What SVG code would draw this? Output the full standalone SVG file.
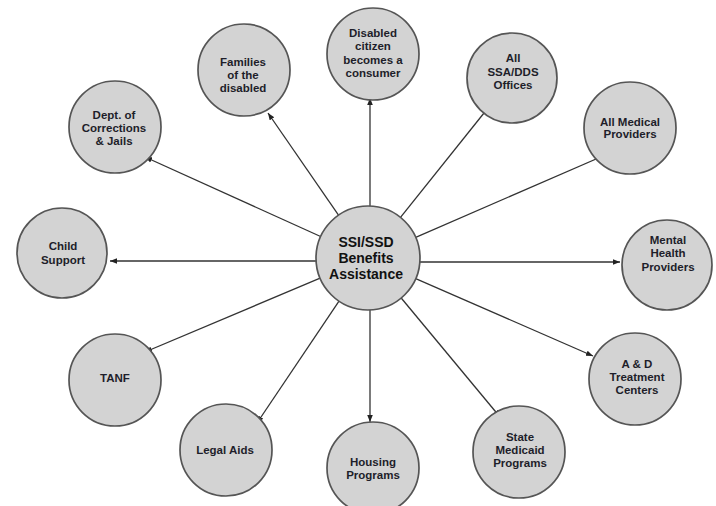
<svg xmlns="http://www.w3.org/2000/svg" width="716" height="506" viewBox="0 0 716 506">
<defs>
<marker id="ah" viewBox="0 0 10 10" refX="10" refY="5" markerWidth="7" markerHeight="7" markerUnits="userSpaceOnUse" orient="auto">
<path d="M0,1 L10,5 L0,9 Z" fill="#222"/>
</marker>
<style>
.n{fill:#d3d3d3;stroke:#555;stroke-width:1.7}
.t{font-family:"Liberation Sans",Arial,sans-serif;font-weight:bold;font-size:11.5px;fill:#1e1e2a;text-anchor:middle}
.tc{font-family:"Liberation Sans",Arial,sans-serif;font-weight:bold;font-size:14px;fill:#111;text-anchor:middle}
.c{stroke:#333;stroke-width:1.3;fill:none;marker-end:url(#ah)}
</style>
</defs>
<rect width="716" height="506" fill="#fff"/>
<g id="connectors">
<line class="c" x1="320.6" y1="236.5" x2="145" y2="157"/>
<line class="c" x1="338.5" y1="215.2" x2="268" y2="113"/>
<line class="c" x1="370" y1="206" x2="370" y2="98"/>
<line class="c" x1="400.5" y1="217.4" x2="492" y2="103"/>
<line class="c" x1="415.7" y1="237.3" x2="603" y2="156"/>
<line class="c" x1="420" y1="262" x2="620" y2="262"/>
<line class="c" x1="415.7" y1="278.6" x2="593" y2="356"/>
<line class="c" x1="401.2" y1="298" x2="500" y2="417"/>
<line class="c" x1="370" y1="310" x2="370" y2="422"/>
<line class="c" x1="339" y1="301.2" x2="257" y2="423"/>
<line class="c" x1="320.1" y1="278.2" x2="145" y2="352"/>
<line class="c" x1="316" y1="261" x2="110" y2="261"/>
</g>
<g id="center">
<circle class="n" cx="368" cy="258" r="52"/>
<text class="tc" x="366" y="247">SSI/SSD</text>
<text class="tc" x="366" y="263">Benefits</text>
<text class="tc" x="366" y="279">Assistance</text>
</g>
<g id="corrections">
<circle class="n" cx="115" cy="127" r="46"/>
<text class="t" x="114" y="119">Dept. of</text>
<text class="t" x="114" y="132">Corrections</text>
<text class="t" x="114" y="145">&amp; Jails</text>
</g>
<g id="families">
<circle class="n" cx="244" cy="70" r="46"/>
<text class="t" x="243" y="66">Families</text>
<text class="t" x="243" y="79">of the</text>
<text class="t" x="243" y="92">disabled</text>
</g>
<g id="consumer">
<circle class="n" cx="373" cy="54" r="46"/>
<text class="t" x="373" y="37">Disabled</text>
<text class="t" x="373" y="50">citizen</text>
<text class="t" x="373" y="64">becomes a</text>
<text class="t" x="373" y="77">consumer</text>
</g>
<g id="ssa">
<circle class="n" cx="512" cy="78" r="45"/>
<text class="t" x="513" y="62">All</text>
<text class="t" x="513" y="76">SSA/DDS</text>
<text class="t" x="513" y="89">Offices</text>
</g>
<g id="medical">
<circle class="n" cx="630" cy="128" r="46"/>
<text class="t" x="630" y="126">All Medical</text>
<text class="t" x="630" y="138">Providers</text>
</g>
<g id="mental">
<circle class="n" cx="667" cy="265" r="45"/>
<text class="t" x="668" y="244">Mental</text>
<text class="t" x="668" y="257">Health</text>
<text class="t" x="668" y="271">Providers</text>
</g>
<g id="ad">
<circle class="n" cx="635" cy="379" r="46"/>
<text class="t" x="637" y="368">A &amp; D</text>
<text class="t" x="637" y="381">Treatment</text>
<text class="t" x="637" y="394">Centers</text>
</g>
<g id="medicaid">
<circle class="n" cx="519" cy="452" r="46"/>
<text class="t" x="520" y="441">State</text>
<text class="t" x="520" y="454">Medicaid</text>
<text class="t" x="520" y="467">Programs</text>
</g>
<g id="housing">
<circle class="n" cx="373" cy="468" r="46"/>
<text class="t" x="373" y="466">Housing</text>
<text class="t" x="373" y="479">Programs</text>
</g>
<g id="legal">
<circle class="n" cx="226" cy="450" r="46"/>
<text class="t" x="225" y="454">Legal Aids</text>
</g>
<g id="tanf">
<circle class="n" cx="115" cy="380" r="46"/>
<text class="t" x="115" y="382">TANF</text>
</g>
<g id="child">
<circle class="n" cx="62" cy="253" r="45"/>
<text class="t" x="63" y="250">Child</text>
<text class="t" x="63" y="264">Support</text>
</g>
</svg>
